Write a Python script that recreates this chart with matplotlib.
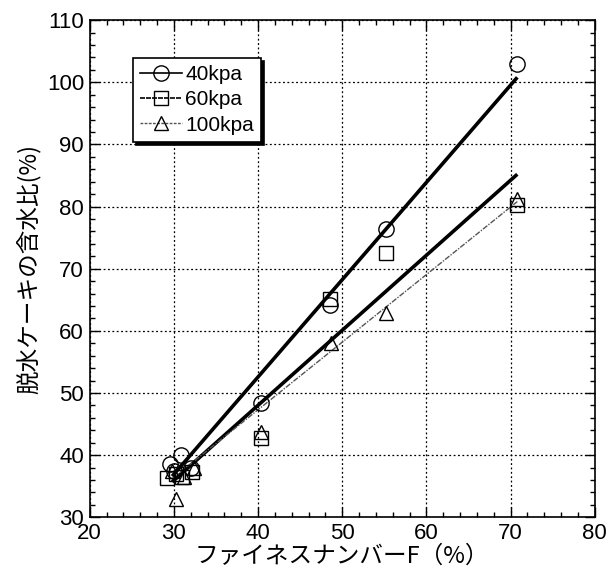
import numpy as np
import matplotlib
matplotlib.use('Agg')
import matplotlib.pyplot as plt
from matplotlib.lines import Line2D
from matplotlib.ticker import MultipleLocator

plt.rcParams['font.family'] = ['Liberation Sans', 'Noto Sans CJK JP', 'DejaVu Sans']

# measured points (fines number F vs. water content of dewatered cake)
x_40 = [29.5, 30.0, 30.8, 32.0, 40.4, 48.6, 55.2, 70.8]
y_40 = [38.5, 37.5, 40.0, 38.0, 48.4, 64.2, 76.4, 103.0]
x_60 = [29.2, 30.2, 31.0, 32.2, 40.4, 48.5, 55.2, 70.8]
y_60 = [36.3, 37.0, 36.5, 37.3, 42.8, 65.2, 72.5, 80.3]
x_100 = [29.8, 30.3, 31.2, 32.4, 40.4, 48.7, 55.2, 70.8]
y_100 = [37.5, 33.0, 36.5, 38.0, 43.8, 58.0, 62.8, 81.2]

# regression lines, start/end values
fit_x = [29.8, 70.8]
fit_40 = [36.6, 100.8]
fit_60 = [35.7, 85.2]
fit_100 = [36.2, 80.8]

labels = ['40kpa', '60kpa', '100kpa']

fig = plt.figure(figsize=(6.1, 5.76), dpi=100)
ax = fig.add_axes([0.147, 0.102, 0.828, 0.863])

ax.plot(fit_x, fit_40, color='black', lw=2.6, solid_capstyle='butt')
ax.plot(fit_x, fit_60, color='black', lw=2.6, solid_capstyle='butt')
ax.plot(fit_x, fit_100, color='#555555', lw=1.0, ls=(0, (4, 1, 1, 1)))

mk = dict(ls='none', mfc='none', mec='black', mew=1.0)
ax.plot(x_40, y_40, marker='o', ms=11, **mk)
ax.plot(x_60, y_60, marker='s', ms=10, **mk)
ax.plot(x_100, y_100, marker='^', ms=10.5, **mk)

ax.set_xlim(20, 80)
ax.set_ylim(30, 110)
ax.xaxis.set_major_locator(MultipleLocator(10))
ax.xaxis.set_minor_locator(MultipleLocator(2))
ax.yaxis.set_major_locator(MultipleLocator(10))
ax.yaxis.set_minor_locator(MultipleLocator(2))
ax.tick_params(which='both', direction='in', top=True, right=True, width=1.0)
ax.tick_params(which='major', length=7, labelsize=16, pad=4)
ax.tick_params(which='minor', length=3.5)
ax.grid(True, which='major', color='black', ls=(0, (1.5, 2)), lw=0.9)
for sp in ax.spines.values():
    sp.set_linewidth(1.2)

ax.set_xlabel('ファイネスナンバーF（%）', fontsize=17, labelpad=1,
              family=['Noto Sans CJK JP', 'DejaVu Sans'])
ax.set_ylabel('脱水ケーキの含水比(%)', fontsize=17, labelpad=4,
              family=['Noto Sans CJK JP', 'DejaVu Sans'])

handles = [
    Line2D([], [], color='black', lw=1.2, marker='o', ms=11, mfc='none', mec='black'),
    Line2D([], [], color='black', lw=1.2, ls=(0, (3, 0.6)), marker='s', ms=10, mfc='none', mec='black'),
    Line2D([], [], color='#555555', lw=1.0, ls=(0, (2, 1)), marker='^', ms=10, mfc='none', mec='black'),
]
leg = ax.legend(handles, labels, loc='upper left', bbox_to_anchor=(0.086, 0.924),
                borderaxespad=0, fontsize=15, handlelength=2.0, handletextpad=0.15,
                labelspacing=0.3, borderpad=0.35, fancybox=False, framealpha=1,
                edgecolor='black', shadow={'color': 'black', 'alpha': 1})
leg.get_frame().set_linewidth(1.2)

fig.savefig('out.png', dpi=100)
